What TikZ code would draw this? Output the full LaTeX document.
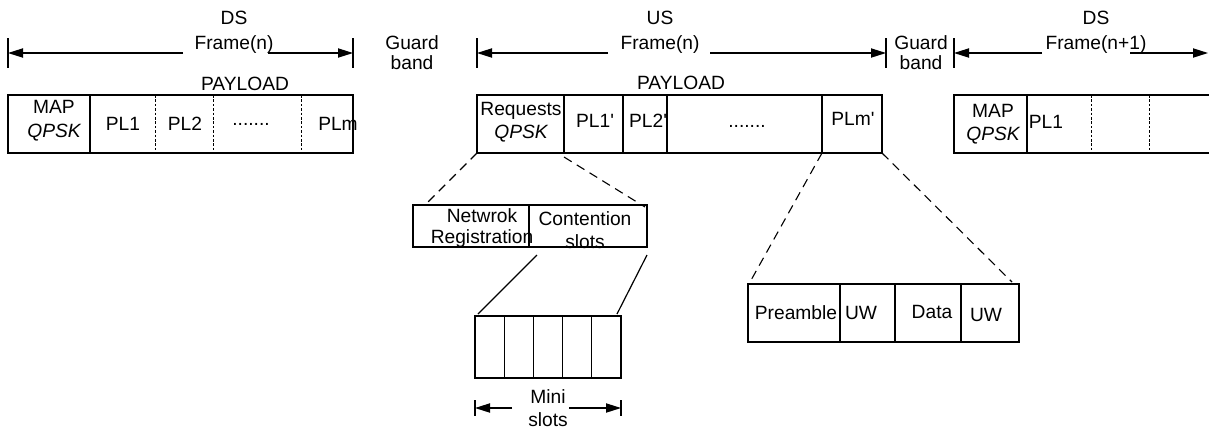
\documentclass[tikz,border=0pt]{standalone}
\usepackage{fontspec}
\setmainfont{Liberation Sans}[Ligatures=TeXOff]
\usetikzlibrary{arrows.meta,calc}
\begin{document}
\begin{tikzpicture}[x=0.5pt,y=-0.5pt,
  every node/.style={inner sep=0pt, outer sep=0pt, font=\fontsize{9.6}{11.5}\selectfont},
  lbl/.style={align=center, font=\fontsize{9.6}{#1}\selectfont},
  lbl/.default=11.5,
  cell/.style={minimum height=29pt},
  ocell/.style={cell, draw, line width=0.6pt},
  edge/.style={line width=0.6pt},
  fine/.style={line width=0.45pt, dash pattern=on 1.3pt off 0.9pt},
  zoomdash/.style={line width=0.55pt, dash pattern=on 4.5pt off 3pt},
  dimarrow/.style={line width=0.6pt, -{Triangle[length=7.5pt,width=4.6pt]}},
  bar/.style={line width=0.6pt},
]
\useasboundingbox (0,0) rectangle (1209,430);

% ---------- DS frame (n)
\node[cell, minimum width=41pt]   (dA) at (49,124) {};
\node[cell, minimum width=32.5pt] (dB) at (122.5,124) {};
\node[cell, minimum width=29pt]   (dC) at (184,124) {};
\node[cell, minimum width=44pt]   (dD) at (257,124) {};
\node[cell, minimum width=26pt]   (dE) at (327,124) {};
\draw[edge] (dA.north west) rectangle (dE.south east);
\draw[edge] (dA.north east) -- (dA.south east);
\foreach \c in {dB,dC,dD} \draw[fine] (\c.north east) -- (\c.south east);
\node[lbl=12] (tdA) at (54,121) {MAP\\\itshape QPSK};
\node (tdB) at (123,124) {PL1};
\node (tdC) at (185,124) {PL2};
\node (tdD) at (251,124) {.......};
\node (tdE) at (338,124) {PLm};
\node (pay1) at (245,84) {PAYLOAD};

\node[lbl=12.5] (dsn) at (234,32.5) {DS\\Frame(n)};
\coordinate (dsL) at (8,53);
\coordinate (dsLa) at (183,53);
\coordinate (dsRa) at (268,53);
\coordinate (dsR) at (353,53);
\draw[bar] ($(dsL)+(0,-15)$) -- ($(dsL)+(0,15)$);
\draw[bar] ($(dsR)+(0,-15)$) -- ($(dsR)+(0,15)$);
\draw[dimarrow] (dsLa) -- (dsL);
\draw[dimarrow] (dsRa) -- (dsR);

% ---------- guard band 1
\node[lbl=10] (gb1) at (412,53) {Guard\\band};

% ---------- US frame (n)
\node[ocell, minimum width=43.5pt] (uA) at (520.5,124) {};
\node[ocell, minimum width=29.5pt] (uB) at (593.5,124) {};
\node[ocell, minimum width=22pt]   (uC) at (645,124) {};
\node[ocell, minimum width=77.5pt] (uD) at (744.5,124) {};
\node[ocell, minimum width=30pt]   (uE) at (852,124) {};
\node[lbl=11.5] (tuA) at (521,122) {Requests\\\itshape QPSK};
\node (tuB) at (595,121) {PL1'};
\node (tuC) at (648,121) {PL2'};
\node (tuD) at (747,126) {.......};
\node (tuE) at (853,119) {PLm'};
\node (pay2) at (681,83) {PAYLOAD};

\node[lbl=12.5] (usn) at (660,32.5) {US\\Frame(n)};
\coordinate (usL) at (477,53);
\coordinate (usLa) at (608,53);
\coordinate (usRa) at (710,53);
\coordinate (usR) at (886,53);
\draw[bar] ($(usL)+(0,-15)$) -- ($(usL)+(0,15)$);
\draw[bar] ($(usR)+(0,-15)$) -- ($(usR)+(0,15)$);
\draw[dimarrow] (usLa) -- (usL);
\draw[dimarrow] (usRa) -- (usR);

% ---------- guard band 2
\node[lbl=10] (gb2) at (921,53) {Guard\\band};

% ---------- DS frame (n+1)
\node[cell, minimum width=36.5pt] (nA) at (990.5,124) {};
\node[cell, minimum width=32pt]   (nB) at (1059,124) {};
\node[cell, minimum width=29pt]   (nC) at (1120,124) {};
\node[cell, minimum width=30pt]   (nD) at (1179,124) {};
\draw[edge] (nD.north east) -- (nA.north west) -- (nA.south west) -- (nD.south east);
\draw[edge] (nA.north east) -- (nA.south east);
\foreach \c in {nB,nC} \draw[fine] (\c.north east) -- (\c.south east);
\node[lbl=11.5] (tnA) at (993,124) {MAP\\\itshape QPSK};
\node (tnB) at (1046,122) {PL1};

\node[lbl=12.5] (dsn1) at (1096,32.5) {DS\\Frame(n+1)};
\coordinate (nL) at (954,53);
\coordinate (nLa) at (1042,53);
\coordinate (nRa) at (1130,53);
\coordinate (nR) at (1208,53);
\draw[bar] ($(nL)+(0,-15)$) -- ($(nL)+(0,15)$);
\draw[dimarrow] (nLa) -- (nL);
\draw[dimarrow] (nRa) -- (nR);

% ---------- request region detail
\node[ocell, minimum width=58pt, minimum height=21pt] (rA) at (471,226) {};
\node[ocell, minimum width=59pt, minimum height=21pt] (rB) at (588,226) {};
\node[lbl=10.5] (trA) at (482,228.5) {Netwrok\\Registration};
\node[lbl=11.5] (trB) at (585,230.5) {Contention\\slots};
\draw[zoomdash] (uA.south west) -- ($(rA.north west)+(14,-2)$);
\draw[zoomdash] ($(uA.south east)+(0,4)$) -- ($(rB.north east)+(-2,2)$);

% ---------- mini slots
\foreach \i in {1,...,5}
  \node[ocell, minimum width=14.6pt, minimum height=31pt] (m\i) at ({475+29.2*(\i-0.5)},347) {};
\draw[edge] ($(rB.south west)+(8,8)$) -- ($(m1.north west)+(3,-2)$);
\draw[edge] ($(rB.south east)+(0,8)$) -- ($(m5.north east)+(-4,-2)$);
\node[lbl=11.5] (mini) at (548,408.5) {Mini\\slots};
\coordinate (mL) at (475,408);
\coordinate (mLa) at (512,408);
\coordinate (mRa) at (569,408);
\coordinate (mR) at (621,408);
\draw[bar] ($(mL)+(0,-8)$) -- ($(mL)+(0,8)$);
\draw[bar] ($(mR)+(0,-8)$) -- ($(mR)+(0,8)$);
\draw[dimarrow] (mLa) -- (mL);
\draw[dimarrow] (mRa) -- (mR);

% ---------- burst detail
\node[ocell, minimum width=46pt]   (pA) at (794,313) {};
\node[ocell, minimum width=27.5pt] (pB) at (867.5,313) {};
\node[ocell, minimum width=33pt]   (pC) at (928,313) {};
\node[ocell, minimum width=29pt]   (pD) at (990,313) {};
\node (tpA) at (796,313) {Preamble};
\node (tpB) at (861,313) {UW};
\node (tpC) at (932,312) {Data};
\node (tpD) at (986,315) {UW};
\draw[zoomdash] (uE.south west) -- ($(pA.north west)+(2,-2)$);
\draw[zoomdash] (uE.south east) -- ($(pD.north east)+(-7,-2)$);
\end{tikzpicture}
\end{document}
